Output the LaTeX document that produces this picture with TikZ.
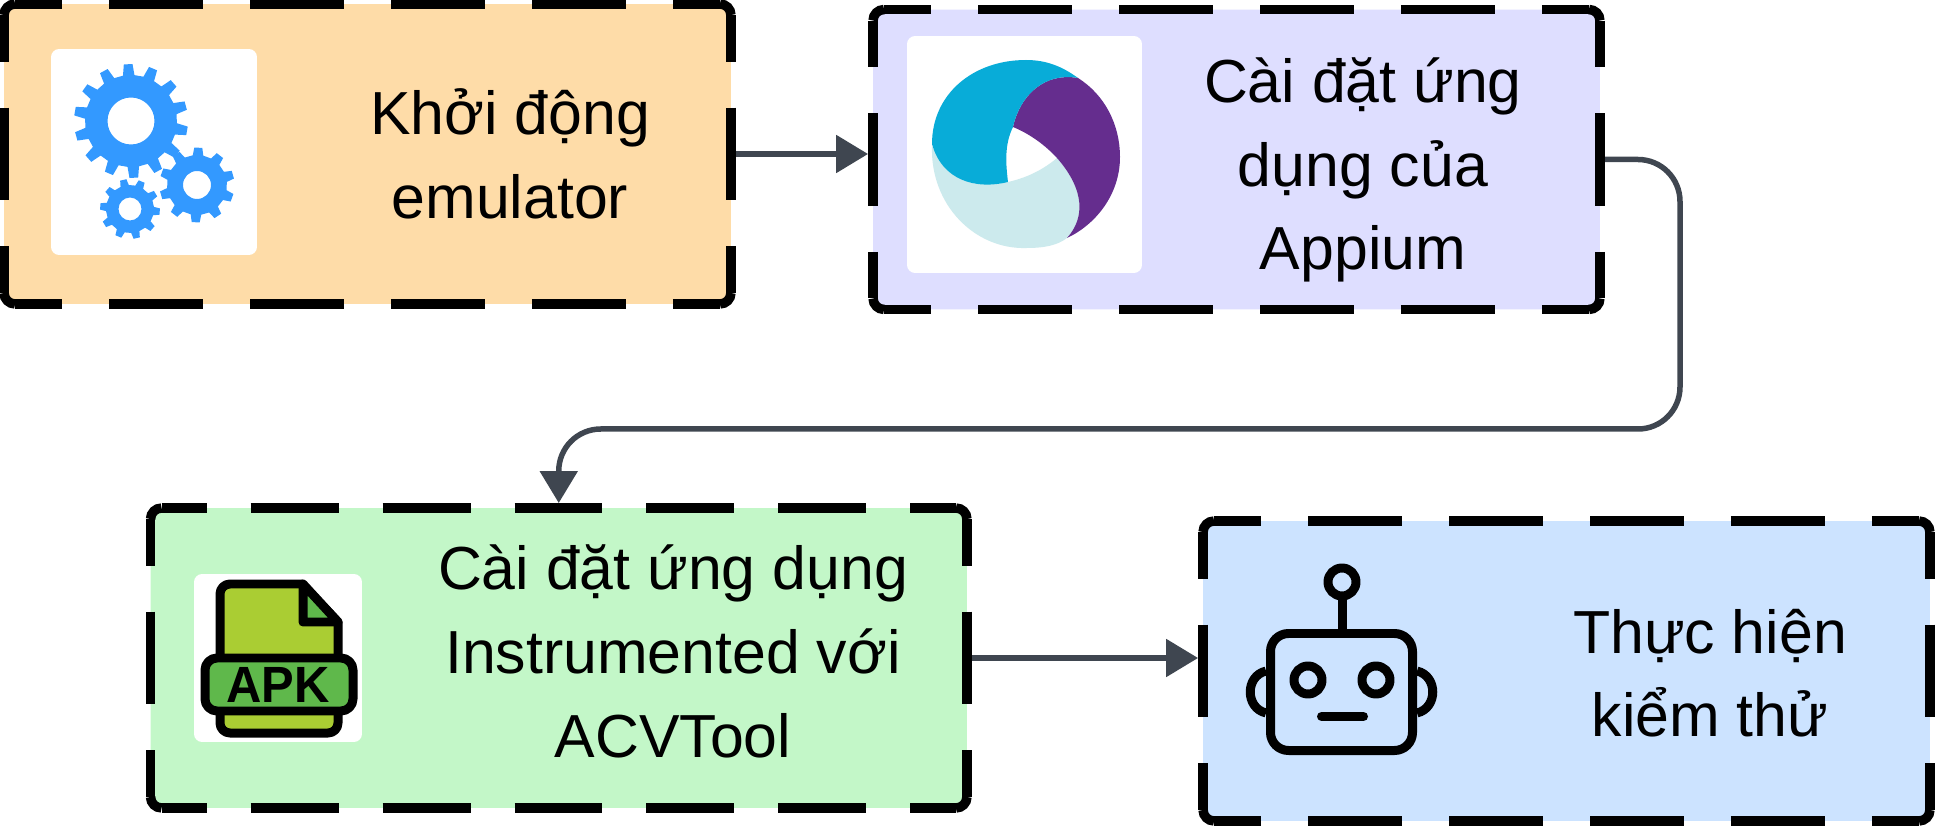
\documentclass[tikz,border=0pt]{standalone}
\usepackage{fontspec}
\setmainfont{Liberation Sans}
\usetikzlibrary{arrows.meta}
\definecolor{emucolor}{HTML}{FEDCA8}
\definecolor{appcolor}{HTML}{DEDEFF}
\definecolor{apkcolor}{HTML}{C3F7C8}
\definecolor{robcolor}{HTML}{CCE3FF}
\definecolor{flowcolor}{HTML}{3F4650}
\definecolor{gearcolor}{HTML}{3399FF}
\definecolor{logoblue}{HTML}{08ACD8}
\definecolor{logopurple}{HTML}{652D8E}
\definecolor{logolight}{HTML}{CCEAED}
\definecolor{filecolor}{HTML}{AACD33}
\definecolor{bandcolor}{HTML}{5FB84B}
\tikzset{
  stepbox/.style={fill=#1, rounded corners=.22cm, inner sep=0, outer sep=0, minimum width=14.54cm, minimum height=6cm},
  iconpad/.style={fill=white, rounded corners=.16cm, inner sep=0, outer sep=0},
  steptext/.style={align=center, inner sep=0, font=\fontsize{34.6}{47.6}\selectfont},
  flowline/.style={draw=flowcolor, line width=.11cm, -{Triangle[length=.64cm,width=.74cm]}, shorten >=.1cm},
  frameline/.style={line width=.19cm},
  iconline/.style={line width=.18cm, line join=round}
}
% one side at a time, the long sides take their own dashes
\newcommand{\dashframe}[4]{
  \draw[frameline, dash pattern=on #2 off #3, dash phase=#4] ([xshift=.22cm]#1.north west) -- ([xshift=-.22cm]#1.north east);
  \draw[frameline, dash pattern=on #2 off #3, dash phase=#4] ([xshift=.22cm]#1.south west) -- ([xshift=-.22cm]#1.south east);
  \draw[frameline, dash pattern=on 1.86cm off .92cm, dash phase=.93cm] ([yshift=-.22cm]#1.north west) -- ([yshift=.22cm]#1.south west);
  \draw[frameline, dash pattern=on 1.86cm off .92cm, dash phase=.93cm] ([yshift=-.22cm]#1.north east) -- ([yshift=.22cm]#1.south east);
  \foreach \c/\h/\v in {north west/.22/-.22, north east/-.22/-.22, south west/.22/.22, south east/-.22/.22}
    \draw[frameline, rounded corners=.22cm] ([xshift=\h cm]#1.\c) -- (#1.\c) -- ([yshift=\v cm]#1.\c);
}
\newcommand{\gearicon}[7]{
  \pgfmathsetmacro{\gearstep}{360/#6}
  \begin{scope}[shift={(#1,#2)}]
  \fill[gearcolor, even odd rule] ({#7-.28*\gearstep}:#4)
    \foreach \k in {1,...,#6}{
      -- ({#7+(\k-1)*\gearstep-.28*\gearstep}:#4)
      -- ({#7+(\k-1)*\gearstep-.17*\gearstep}:#3)
      -- ({#7+(\k-1)*\gearstep+.17*\gearstep}:#3)
      -- ({#7+(\k-1)*\gearstep+.28*\gearstep}:#4)
    } -- cycle (0,0) circle [radius=#5];
  \end{scope}
}
\begin{document}
\begin{tikzpicture}[x=.02cm, y=-.02cm]
\useasboundingbox (0,0) rectangle (1935,827);

\node (emu) [stepbox=emucolor] at (367.5,154) {};
\node (app) [stepbox=appcolor] at (1236.5,159.5) {};
\node (apk) [stepbox=apkcolor, minimum width=16.33cm] at (558.75,658) {};
\node (rob) [stepbox=robcolor] at (1566.5,671) {};

\node (emutext) [steptext] at (510,154) {Khởi động\\emulator};
\node (apptext) [steptext] at (1363,170) {Cài đặt ứng\\dụng của\\Appium};
\node (apktext) [steptext] at (673,651.5) {Cài đặt ứng dụng\\Instrumented với\\ACVTool};
\node (robtext) [steptext] at (1710,673) {Thực hiện\\kiểm thử};

\coordinate (elbow) at (1680,429);
\draw[flowline] (emu.east) -- (emu.east -| app.west);
\draw[flowline, rounded corners=.84cm] (app.east) -| (elbow) -| (apk.north);
\draw[flowline] (apk.east) -- (apk.east -| rob.west);

\dashframe{emu}{1.88cm}{.94cm}{.94cm}
\dashframe{app}{1.88cm}{.94cm}{.94cm}
\dashframe{apk}{1.76cm}{.88cm}{.86cm}
\dashframe{rob}{1.88cm}{.94cm}{.94cm}

\node (gearpad) [iconpad, minimum width=4.12cm, minimum height=4.12cm] at (154,152) {};
\gearicon{131}{121}{57}{46}{23.5}{14}{10}
\gearicon{197}{185}{37.5}{30}{14}{10}{20}
\gearicon{130}{209}{30}{24}{11.5}{10}{5}

\node (logopad) [iconpad, minimum width=4.7cm, minimum height=4.74cm] at (1024.5,154.5) {};
\fill[logolight] (932,146) .. controls (930,205) and (975,250) .. (1027,248) .. controls (1045,248) and (1058,245) .. (1067,238)
  .. controls (1085,218) and (1085,190) .. (1057,158) .. controls (1045,168) and (1030,177) .. (1008,182) .. controls (975,190) and (945,175) .. (932,146) -- cycle;
\fill[logopurple] (1078,78) .. controls (1105,95) and (1120,125) .. (1120,157) .. controls (1120,195) and (1095,225) .. (1067,238)
  .. controls (1085,218) and (1085,190) .. (1057,158) .. controls (1045,145) and (1030,134) .. (1013,127) .. controls (1020,95) and (1045,72) .. (1078,78) -- cycle;
\fill[logoblue] (932,144) .. controls (932,94) and (973,60) .. (1026,60) .. controls (1047,60) and (1063,67) .. (1078,78)
  .. controls (1045,72) and (1020,95) .. (1013,127) .. controls (1004,145) and (1006,165) .. (1008,182) .. controls (975,190) and (942,180) .. (932,144) -- cycle;

\node (filepad) [iconpad, minimum width=3.36cm, minimum height=3.36cm] at (278,658) {};
\filldraw[iconline, fill=filecolor] (302,584) [rounded corners=.2cm] -- (220,584) -- (220,733) -- (338,733) [sharp corners] -- (338,622) -- cycle;
\filldraw[iconline, fill=bandcolor] (303,584) -- (303,622) -- (338,622) -- cycle;
\filldraw[iconline, fill=bandcolor, rounded corners=.24cm] (205,658) rectangle (353,711);
\node (filetext) [inner sep=0, xscale=.96, font=\fontsize{29}{29}\selectfont\bfseries] at (278,685) {APK};

\draw[iconline] (1342,582) circle [radius=14];
\draw[iconline] (1342,596) -- (1342,633);
\draw[iconline, rounded corners=.36cm] (1270.5,633.5) rectangle (1412.5,750.5);
\draw[iconline] (1308,680) circle [radius=14];
\draw[iconline] (1376,680) circle [radius=14];
\draw[iconline, line cap=round] (1321.5,716.5) -- (1363.5,716.5);
\draw[iconline] (1266,671) .. controls (1245,676) and (1245,708) .. (1266,713);
\draw[iconline] (1417,671) .. controls (1438,676) and (1438,708) .. (1417,713);
\end{tikzpicture}
\end{document}
